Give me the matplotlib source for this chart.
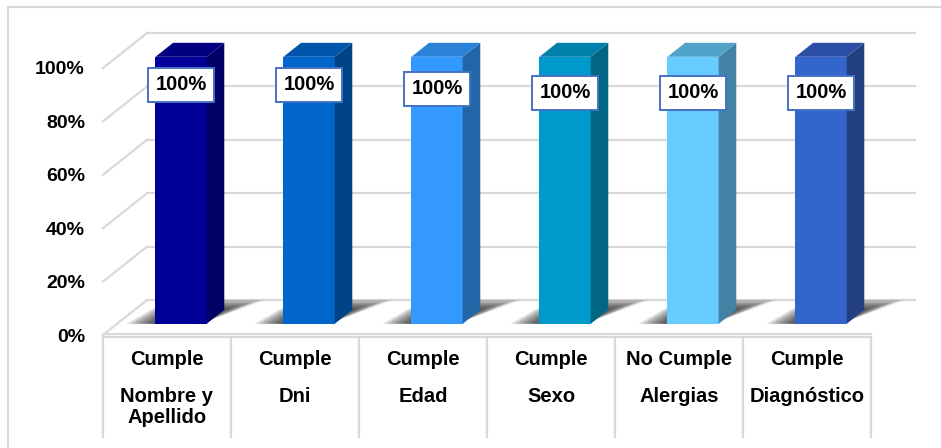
import matplotlib
matplotlib.use("Agg")
import matplotlib.pyplot as plt
from matplotlib.patches import Polygon
from matplotlib.lines import Line2D

# ---- data -------------------------------------------------------------
status = ["Cumple", "Cumple", "Cumple", "Cumple", "No Cumple", "Cumple"]
fields = ["Nombre y\nApellido", "Dni", "Edad", "Sexo", "Alergias", "Diagnóstico"]
values = [100, 100, 100, 100, 100, 100]
value_labels = ["100%", "100%", "100%", "100%", "100%", "100%"]
yticks = [0, 20, 40, 60, 80, 100]
ytick_labels = ["0%", "20%", "40%", "60%", "80%", "100%"]

# ---- style ------------------------------------------------------------
front_colors = ["#000099", "#0066CC", "#3399FF", "#0099CC", "#66CCFF", "#3366CC"]
side_colors = ["#000066", "#004488", "#2266A8", "#006684", "#4282A4", "#223F82"]
top_colors = ["#000080", "#0055AA", "#2B80D8", "#0080AA", "#50A2C8", "#2A4FA4"]
label_drop_px = [28, 28, 32, 36, 36, 36]
grid_color = "#D9D9D9"
font = ["Liberation Sans", "DejaVu Sans"]
fs = 14

W, H, DPI = 941, 448, 100
fig = plt.figure(figsize=(W / DPI, H / DPI), dpi=DPI)
fig.patch.set_facecolor("white")

# oblique "3D" frame: front plane box in pixels, depth offset in pixels
x0_px, x1_px = 103, 915
y_floor_px, y_top_px = 335, 33
px_per_cat = 128.0
px_per_pct = 2.67
depth_px = (44, 35)

ax = fig.add_axes([x0_px / W, (H - y_floor_px) / H,
                   (x1_px - x0_px) / W, (y_floor_px - y_top_px) / H])
n = len(values)
ax.set_xlim(-0.5, -0.5 + (x1_px - x0_px) / px_per_cat)
ax.set_ylim(0, (y_floor_px - y_top_px) / px_per_pct)
DX = depth_px[0] / px_per_cat
DY = depth_px[1] / px_per_pct

for s in ax.spines.values():
    s.set_visible(False)
ax.set_xticks([])
ax.set_yticks(yticks)
ax.set_yticklabels(ytick_labels, fontsize=fs, fontweight="bold", family=font)
ax.tick_params(axis="y", length=0, pad=13)
ax.patch.set_alpha(0)

left, right = -0.5, n - 0.5

# back wall and side wall gridlines
for v in yticks[1:]:
    ax.plot([left + DX, right + DX], [v + DY, v + DY], color=grid_color, lw=1.6, zorder=1,
            clip_on=False)
    ax.plot([left, left + DX], [v, v + DY], color=grid_color, lw=1.6, zorder=1, clip_on=False)

# floor: back edge, left edge and a doubled front edge
ax.plot([left + DX, right + DX], [DY, DY], color=grid_color, lw=1.6, zorder=1, clip_on=False)
ax.plot([left, left + DX], [0, DY], color=grid_color, lw=1.6, zorder=1, clip_on=False)
ax.plot([left, right], [0.4, 0.4], color=grid_color, lw=1.6, zorder=1, clip_on=False)
ax.plot([left, right], [-0.8, -0.8], color=grid_color, lw=1.6, zorder=1, clip_on=False)

# bars
f0, f1 = 0.32, 0.72
bw = 0.4
xs = [i + f0 * DX for i in range(n)]
base = f0 * DY

# soft shadow on the floor
for i in range(n):
    bl = xs[i] - bw / 2
    br = bl + bw
    steps = 12
    for k in range(steps):
        t = k / (steps - 1)
        grow_l = 0.22 * (1 - t) + 0.01
        grow_r = 0.22 * (1 - t)
        fa = f0
        fb = min(f1 + 0.3 * (1 - t) + 0.02, 1.0)
        pb = (fb - f0) * DX
        ya = fa * DY
        yb = fb * DY
        poly = Polygon([(bl - grow_l, ya), (br - 0.05, ya),
                        (br + grow_r + pb, yb), (bl - grow_l * 0.6 + pb, yb)],
                       closed=True, facecolor="black", edgecolor="none",
                       alpha=0.085, zorder=2, clip_on=False)
        ax.add_patch(poly)

ax.bar(xs, values, width=bw, bottom=base, color=front_colors, zorder=4, clip_on=False)
ddx = (f1 - f0) * DX
ddy = (f1 - f0) * DY
for i in range(n):
    bl = xs[i] - bw / 2
    br = bl + bw
    top = base + values[i]
    side = Polygon([(br, base), (br + ddx, base + ddy), (br + ddx, top + ddy), (br, top)],
                   closed=True, facecolor=side_colors[i], edgecolor="none", zorder=4,
                   clip_on=False)
    cap = Polygon([(bl, top), (br, top), (br + ddx, top + ddy), (bl + ddx, top + ddy)],
                  closed=True, facecolor=top_colors[i], edgecolor="none", zorder=4,
                  clip_on=False)
    ax.add_patch(side)
    ax.add_patch(cap)

# value labels
for i in range(n):
    ax.annotate(value_labels[i], xy=(xs[i], base + values[i]), xytext=(0, -label_drop_px[i]),
                textcoords="offset pixels", ha="center", va="center", fontsize=fs + 0.5,
                fontweight="bold", family=font, color="black", zorder=6,
                bbox=dict(boxstyle="square,pad=0.36", facecolor="white",
                          edgecolor="#4472C4", lw=1.4))

# category table below the floor
tab_bottom_px = 437
for k in range(n + 1):
    xk = left + k
    ax.add_line(Line2D([xk, xk], [-0.8, -(tab_bottom_px - y_floor_px) / px_per_pct],
                       color=grid_color, lw=1.6, clip_on=False))

for i in range(n):
    ax.annotate(status[i], xy=(i, 0), xytext=(0, -24), textcoords="offset pixels",
                ha="center", va="center", fontsize=fs + 0.5, fontweight="bold", family=font)
    ax.annotate(fields[i], xy=(i, 0), xytext=(0, -52), textcoords="offset pixels",
                ha="center", va="top", fontsize=fs + 0.5, fontweight="bold", family=font,
                multialignment="center", linespacing=1.12)

# outer frame
fig.add_artist(Line2D([8 / W, 1.0], [1 - 7 / H, 1 - 7 / H], color=grid_color, lw=1.5))
fig.add_artist(Line2D([8 / W, 8 / W], [0, 1 - 7 / H], color=grid_color, lw=1.5))

fig.savefig("out.png", dpi=DPI)
